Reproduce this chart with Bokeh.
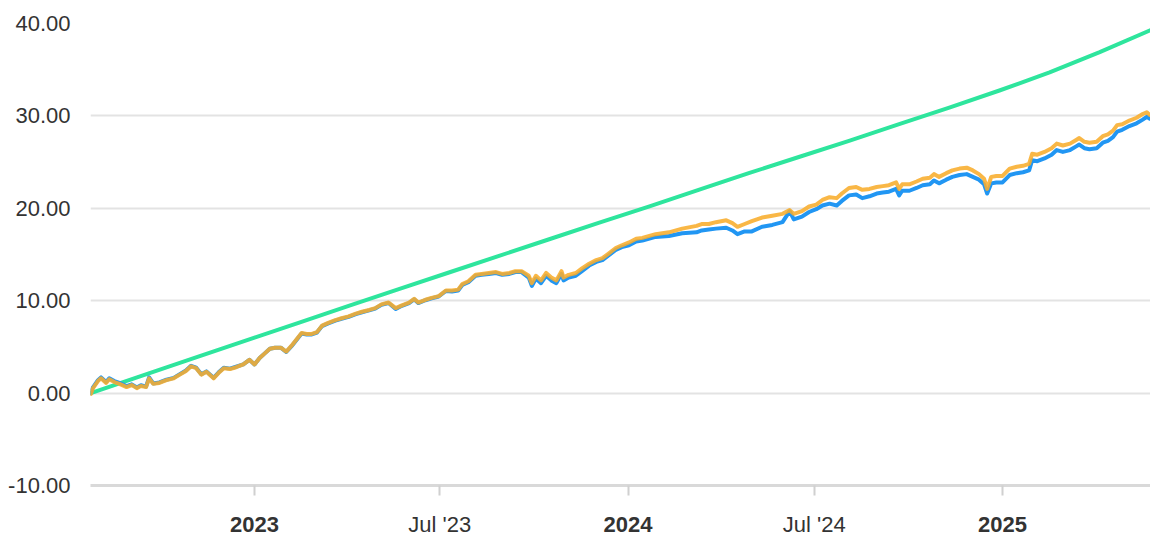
import pandas as pd
from bokeh.plotting import figure
from bokeh.models import (Range1d, FixedTicker, DatetimeAxis, NumeralTickFormatter,
                          ColumnDataSource)
from bokeh.embed import file_html
from bokeh.resources import INLINE

# ---------------- data ----------------
line_dates = [
    "2022-07-25", "2022-07-27", "2022-08-01", "2022-08-04", "2022-08-09", "2022-08-12",
    "2022-08-17", "2022-08-22", "2022-08-29", "2022-09-03", "2022-09-08", "2022-09-12",
    "2022-09-17", "2022-09-20", "2022-09-24", "2022-09-30", "2022-10-07", "2022-10-14",
    "2022-10-20", "2022-10-26", "2022-10-31", "2022-11-05", "2022-11-10", "2022-11-15",
    "2022-11-22", "2022-11-27", "2022-12-02", "2022-12-08", "2022-12-14", "2022-12-21",
    "2022-12-27", "2023-01-01", "2023-01-06", "2023-01-11", "2023-01-16", "2023-01-21",
    "2023-01-27", "2023-02-01", "2023-02-06", "2023-02-11", "2023-02-16", "2023-02-21",
    "2023-02-26", "2023-03-03", "2023-03-08", "2023-03-14", "2023-03-21", "2023-03-27",
    "2023-04-03", "2023-04-10", "2023-04-16", "2023-04-23", "2023-04-29", "2023-05-05",
    "2023-05-12", "2023-05-19", "2023-05-25", "2023-06-01", "2023-06-06", "2023-06-10",
    "2023-06-17", "2023-06-23", "2023-06-30", "2023-07-07", "2023-07-13", "2023-07-19",
    "2023-07-23", "2023-07-29", "2023-08-05", "2023-08-11", "2023-08-18", "2023-08-25",
    "2023-08-31", "2023-09-07", "2023-09-13", "2023-09-19", "2023-09-26", "2023-09-29",
    "2023-10-03", "2023-10-08", "2023-10-13", "2023-10-18", "2023-10-23", "2023-10-28",
    "2023-10-30", "2023-11-04", "2023-11-11", "2023-11-17", "2023-11-24", "2023-12-01",
    "2023-12-07", "2023-12-13", "2023-12-20", "2023-12-26", "2024-01-02", "2024-01-09",
    "2024-01-15", "2024-01-28", "2024-02-10", "2024-02-23", "2024-03-08", "2024-03-13",
    "2024-03-20", "2024-03-27", "2024-04-06", "2024-04-12", "2024-04-17", "2024-04-24",
    "2024-05-01", "2024-05-11", "2024-05-21", "2024-05-31", "2024-06-07", "2024-06-11",
    "2024-06-19", "2024-06-26", "2024-07-03", "2024-07-09", "2024-07-16", "2024-07-23",
    "2024-07-28", "2024-08-04", "2024-08-11", "2024-08-17", "2024-08-24", "2024-08-31",
    "2024-09-06", "2024-09-12", "2024-09-19", "2024-09-22", "2024-09-25", "2024-10-02",
    "2024-10-09", "2024-10-15", "2024-10-22", "2024-10-26", "2024-10-31", "2024-11-07",
    "2024-11-13", "2024-11-20", "2024-11-27", "2024-12-03", "2024-12-09", "2024-12-14",
    "2024-12-17", "2024-12-21", "2024-12-26", "2025-01-01", "2025-01-08", "2025-01-15",
    "2025-01-21", "2025-01-27", "2025-01-30", "2025-02-04", "2025-02-11", "2025-02-18",
    "2025-02-23", "2025-03-01", "2025-03-08", "2025-03-14", "2025-03-17", "2025-03-22",
    "2025-03-27", "2025-04-03", "2025-04-09", "2025-04-14", "2025-04-19", "2025-04-23",
    "2025-04-28", "2025-05-05", "2025-05-12", "2025-05-18", "2025-05-22", "2025-05-25",
]

orange_values = [
    -0.1, 0.5, 1.3, 1.6, 1.1, 1.5,
    1.2, 1.0, 0.65, 0.87, 0.54, 0.76,
    0.65, 1.6, 1.0, 1.1, 1.4, 1.6,
    2.0, 2.4, 2.9, 2.7, 2.0, 2.3,
    1.6, 2.2, 2.7, 2.6, 2.8, 3.1,
    3.6, 3.1, 3.8, 4.3, 4.8, 4.9,
    4.9, 4.5, 5.1, 5.8, 6.5, 6.4,
    6.4, 6.6, 7.3, 7.6, 7.9, 8.1,
    8.3, 8.6, 8.8, 9.0, 9.2, 9.6,
    9.8, 9.2, 9.5, 9.8, 10.2, 9.8,
    10.1, 10.3, 10.5, 11.1, 11.1, 11.2,
    11.8, 12.1, 12.8, 12.9, 13.0, 13.1,
    12.9, 13.0, 13.2, 13.2, 12.7, 11.9,
    12.7, 12.2, 13.0, 12.5, 12.2, 13.2,
    12.5, 12.8, 13.0, 13.5, 14.0, 14.4,
    14.6, 15.1, 15.7, 16.0, 16.3, 16.7,
    16.8, 17.2, 17.4, 17.8, 18.1, 18.3,
    18.3, 18.5, 18.7, 18.4, 18.0, 18.3,
    18.6, 19.0, 19.2, 19.4, 19.8, 19.4,
    19.7, 20.2, 20.4, 20.9, 21.2, 21.1,
    21.6, 22.2, 22.3, 22.0, 22.1, 22.3,
    22.4, 22.5, 22.8, 22.1, 22.6, 22.6,
    22.9, 23.2, 23.3, 23.7, 23.4, 23.8,
    24.1, 24.3, 24.4, 24.1, 23.7, 23.2,
    22.1, 23.4, 23.5, 23.5, 24.3, 24.5,
    24.6, 24.8, 25.9, 25.8, 26.1, 26.5,
    27.0, 26.8, 27.0, 27.4, 27.6, 27.2,
    27.1, 27.2, 27.8, 28.0, 28.4, 29.0,
    29.1, 29.5, 29.8, 30.2, 30.4, 30.1,
]

blue_values = [
    0.0, 0.6, 1.4, 1.7, 1.2, 1.6,
    1.3, 1.1, 0.75, 0.95, 0.6, 0.85,
    0.7, 1.7, 1.05, 1.15, 1.45, 1.65,
    2.05, 2.45, 2.95, 2.75, 2.05, 2.35,
    1.65, 2.25, 2.75, 2.65, 2.85, 3.1,
    3.6, 3.1, 3.8, 4.3, 4.8, 4.9,
    4.9, 4.45, 5.05, 5.75, 6.45, 6.35,
    6.35, 6.55, 7.25, 7.55, 7.85, 8.05,
    8.25, 8.55, 8.75, 8.95, 9.15, 9.55,
    9.75, 9.1, 9.45, 9.75, 10.15, 9.75,
    10.05, 10.25, 10.45, 11.05, 11.0, 11.1,
    11.7, 12.0, 12.7, 12.8, 12.9, 13.0,
    12.8, 12.9, 13.1, 13.1, 12.5, 11.6,
    12.4, 11.9, 12.7, 12.2, 11.9, 12.9,
    12.2, 12.5, 12.7, 13.2, 13.8, 14.2,
    14.4, 14.9, 15.5, 15.8, 16.0, 16.4,
    16.5, 16.9, 17.0, 17.3, 17.4, 17.6,
    17.7, 17.8, 17.9, 17.6, 17.2, 17.5,
    17.5, 18.0, 18.2, 18.5, 19.7, 18.8,
    19.1, 19.6, 19.9, 20.3, 20.5, 20.3,
    20.8, 21.4, 21.5, 21.1, 21.3, 21.6,
    21.7, 21.8, 22.1, 21.4, 21.9, 21.9,
    22.2, 22.5, 22.6, 23.0, 22.7, 23.1,
    23.4, 23.6, 23.7, 23.4, 23.1, 22.6,
    21.6, 22.7, 22.8, 22.8, 23.6, 23.8,
    23.9, 24.1, 25.2, 25.1, 25.4, 25.8,
    26.3, 26.1, 26.3, 26.7, 26.9, 26.5,
    26.4, 26.5, 27.1, 27.3, 27.7, 28.3,
    28.5, 28.9, 29.2, 29.6, 29.9, 29.7,
]

green_dates = [
    "2022-07-25", "2022-09-19", "2022-11-07", "2023-01-01", "2023-02-13", "2023-04-03",
    "2023-05-22", "2023-07-10", "2023-08-28", "2023-10-16", "2023-12-04", "2024-01-22",
    "2024-03-10", "2024-04-28", "2024-06-16", "2024-08-04", "2024-09-22", "2024-11-10",
    "2024-12-29", "2025-02-16", "2025-04-06", "2025-05-26",
]
green_values = [
    0.0, 2.1, 3.95, 6.0, 7.6, 9.45,
    11.25, 13.05, 14.85, 16.65, 18.45, 20.2,
    22.0, 23.8, 25.55, 27.3, 29.1, 30.9,
    32.75, 34.7, 36.9, 39.3,
]

y_ticks = [-10, 0, 10, 20, 30, 40]
year_ticks = ["2023-01-01", "2024-01-01", "2025-01-01"]
year_labels = ["2023", "2024", "2025"]
mid_ticks = ["2023-07-01", "2024-07-01"]
mid_labels = ["Jul '23", "Jul '24"]

# ---------------- styles ----------------
FONT = "Liberation Sans"
LABEL_COLOR = "#333333"
GREEN = "#2ee59d"
BLUE = "#2196f3"
ORANGE = "#f8ad2c"


def ms(d):
    return int(pd.Timestamp(d).value // 10**6)


src = ColumnDataSource(dict(x=pd.to_datetime(line_dates), o=orange_values, b=blue_values))
gsrc = ColumnDataSource(dict(x=pd.to_datetime(green_dates), g=green_values))

p = figure(
    frame_width=1060, frame_height=462,
    x_axis_type="datetime",
    x_range=Range1d(pd.Timestamp("2022-07-24 17:00"), pd.Timestamp("2025-05-25 15:00")),
    y_range=Range1d(-10, 40),
    output_backend="svg", toolbar_location=None,
    min_border_left=90, min_border_right=0, min_border_top=23, min_border_bottom=40,
)
p.outline_line_color = None
p.background_fill_color = "white"
p.border_fill_color = "white"

p.line("x", "g", source=gsrc, color=GREEN, line_width=4, line_join="round", line_cap="round")
p.line("x", "b", source=src, color=BLUE, line_width=4, line_join="round", line_cap="round")
p.line("x", "o", source=src, color=ORANGE, line_alpha=0.88, line_width=4,
       line_join="round", line_cap="round")

# y axis
ya = p.yaxis[0]
ya.ticker = FixedTicker(ticks=y_ticks)
ya.formatter = NumeralTickFormatter(format="0.00")
ya.axis_line_color = None
ya.major_tick_line_color = None
ya.minor_tick_line_color = None
ya.major_tick_out = 0
ya.major_tick_in = 0
ya.minor_tick_out = 0
ya.major_label_standoff = 20
ya.major_label_text_font = FONT
ya.major_label_text_font_size = "22px"
ya.major_label_text_color = LABEL_COLOR

p.ygrid.ticker = FixedTicker(ticks=y_ticks)
p.ygrid.grid_line_color = "#e3e3e3"
p.ygrid.grid_line_width = 2
p.xgrid.grid_line_color = None

# x axis A: tick marks everywhere, "Jul" labels in normal weight
xa = p.xaxis[0]
all_ticks = [ms(d) for d in year_ticks + mid_ticks]
xa.ticker = FixedTicker(ticks=all_ticks)
overrides = {ms(d): " " for d in year_ticks}
overrides.update({ms(d): lab for d, lab in zip(mid_ticks, mid_labels)})
xa.major_label_overrides = overrides
xa.axis_line_color = "#d9d9d9"
xa.axis_line_width = 3
xa.major_tick_line_color = "#d0d0d0"
xa.major_tick_line_width = 2
xa.major_tick_out = 10
xa.major_tick_in = 0
xa.minor_tick_line_color = None
xa.major_label_standoff = 16
xa.major_label_text_font = FONT
xa.major_label_text_font_size = "22px"
xa.major_label_text_color = LABEL_COLOR

# x axis B: bold year labels, pulled up to the same row
xb = DatetimeAxis(
    ticker=FixedTicker(ticks=[ms(d) for d in year_ticks]),
    major_label_overrides={ms(d): lab for d, lab in zip(year_ticks, year_labels)},
)
xb.axis_line_color = None
xb.major_tick_line_color = None
xb.minor_tick_line_color = None
xb.major_tick_out = 0
xb.major_label_standoff = -23
xb.major_label_text_font = FONT
xb.major_label_text_font_size = "22px"
xb.major_label_text_font_style = "bold"
xb.major_label_text_color = LABEL_COLOR
p.add_layout(xb, "below")

open("out.html", "w").write(file_html(p, INLINE))
